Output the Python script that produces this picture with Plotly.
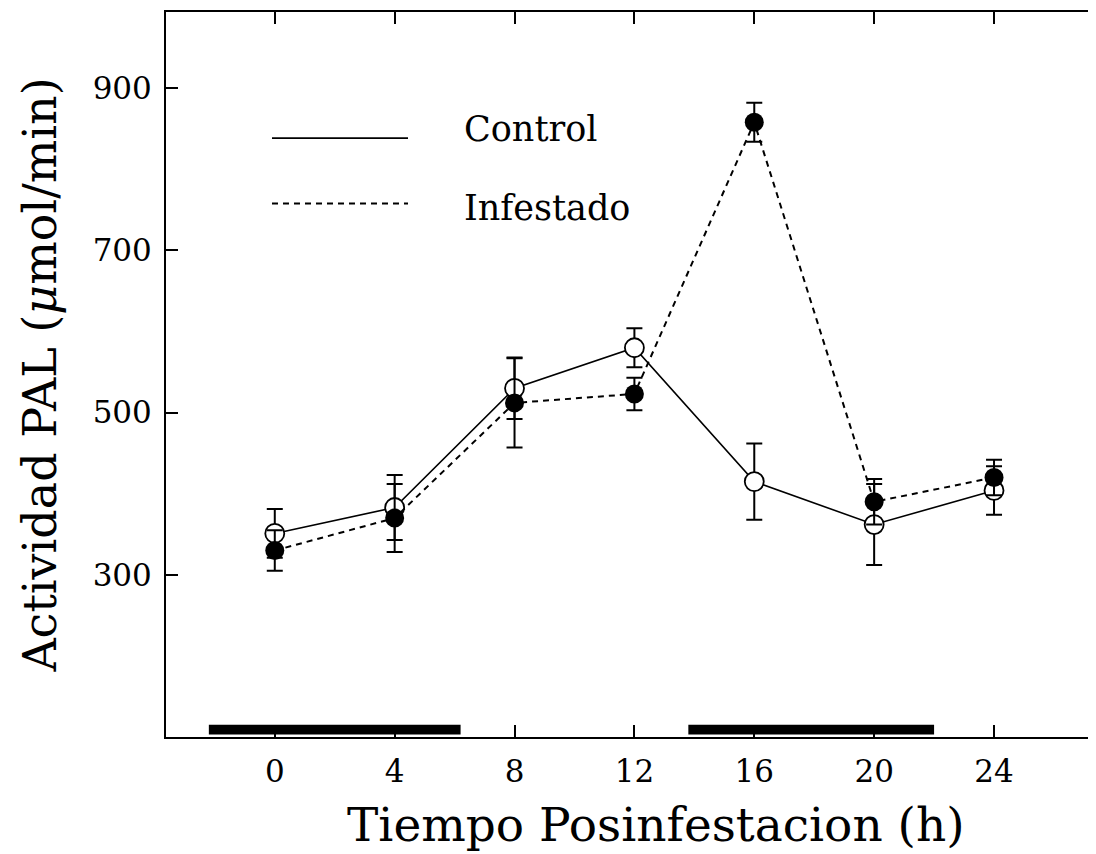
import plotly.graph_objects as go

# Tiempo posinfestacion [h]
horas = [0, 4, 8, 12, 16, 20, 24]

# Actividad PAL [umol/min]
control = [351, 383, 530, 580, 415, 362, 404]
control_err = [30, 40, 38, 24, 47, 50, 30]

infestado = [330, 370, 512, 523, 858, 390, 420]
infestado_err = [25, 42, 55, 20, 24, 28, 22]

# periodos de oscuridad (barras negras sobre el eje x) [h]
oscuridad = [(-2.2, 6.2), (13.8, 22.0)]

x_ticks = [0, 4, 8, 12, 16, 20, 24]
y_ticks = [300, 500, 700, 900]

FONT = 'DejaVu Serif'

fig = go.Figure()

# Control: linea continua, circulo abierto
fig.add_trace(
    go.Scatter(
        x = horas,
        y = control,
        mode = 'lines+markers',
        name = 'Control',
        line = dict(color = 'black', width = 1.6),
        marker = dict(size = 19, color = 'white',
                      line = dict(color = 'black', width = 1.8)),
        error_y = dict(type = 'data', array = control_err,
                       color = 'black', thickness = 2, width = 8)
    )
)

# Infestado: linea discontinua, circulo lleno
fig.add_trace(
    go.Scatter(
        x = horas,
        y = infestado,
        mode = 'lines+markers',
        name = 'Infestado',
        line = dict(color = 'black', width = 2, dash = '6px,5px'),
        marker = dict(size = 19, color = 'black'),
        error_y = dict(type = 'data', array = infestado_err,
                       color = 'black', thickness = 2, width = 8)
    )
)

# barras de oscuridad
for x0, x1 in oscuridad:
    fig.add_shape(type = 'rect', xref = 'x', yref = 'y',
                  x0 = x0, x1 = x1, y0 = 103, y1 = 115,
                  fillcolor = 'black', line = dict(width = 0))

# leyenda dibujada a mano (lineas largas como en el original)
fig.add_shape(type = 'line', xref = 'paper', yref = 'paper',
              x0 = 0.113, x1 = 0.258, y0 = 0.826, y1 = 0.826,
              line = dict(color = 'black', width = 1.6))
fig.add_shape(type = 'line', xref = 'paper', yref = 'paper',
              x0 = 0.113, x1 = 0.258, y0 = 0.736, y1 = 0.736,
              line = dict(color = 'black', width = 2, dash = '6px,5px'))
fig.add_annotation(text = 'Control', xref = 'paper', yref = 'paper',
                   x = 0.316, y = 0.838, xanchor = 'left', yanchor = 'middle',
                   showarrow = False, font = dict(family = FONT, size = 35, color = 'black'))
fig.add_annotation(text = 'Infestado', xref = 'paper', yref = 'paper',
                   x = 0.316, y = 0.730, xanchor = 'left', yanchor = 'middle',
                   showarrow = False, font = dict(family = FONT, size = 35, color = 'black'))

# titulo del eje x (algo desplazado a la derecha en el original)
fig.add_annotation(text = 'Tiempo Posinfestacion (h)', xref = 'paper', yref = 'paper',
                   x = 0.522, y = -0.121, xanchor = 'center', yanchor = 'middle',
                   showarrow = False, font = dict(family = FONT, size = 47, color = 'black'))

axis_common = dict(
    showline = True, linecolor = 'black', linewidth = 2,
    mirror = 'ticks', ticks = 'inside', ticklen = 12,
    tickwidth = 1.5, tickcolor = 'black',
    showgrid = False, zeroline = False, automargin = False,
    tickfont = dict(family = FONT, size = 31, color = 'black'),
)

fig.update_layout(
    width = 1096,
    height = 854,
    margin = dict(l = 158, r = 0, t = 4, b = 125),
    paper_bgcolor = 'white',
    plot_bgcolor = 'white',
    showlegend = False,
    xaxis = dict(
        axis_common,
        range = [-3.63, 27.67],
        tickvals = x_ticks,
        ticklabelstandoff = 6,
    ),
    yaxis = dict(
        axis_common,
        range = [100, 994],
        tickvals = y_ticks,
        ticklabelstandoff = 6,
        title = dict(text = 'Actividad PAL (<i>μ</i>mol/min)', standoff = 22,
                     font = dict(family = FONT, size = 46, color = 'black')),
    ),
)

fig.write_html('out.html')
